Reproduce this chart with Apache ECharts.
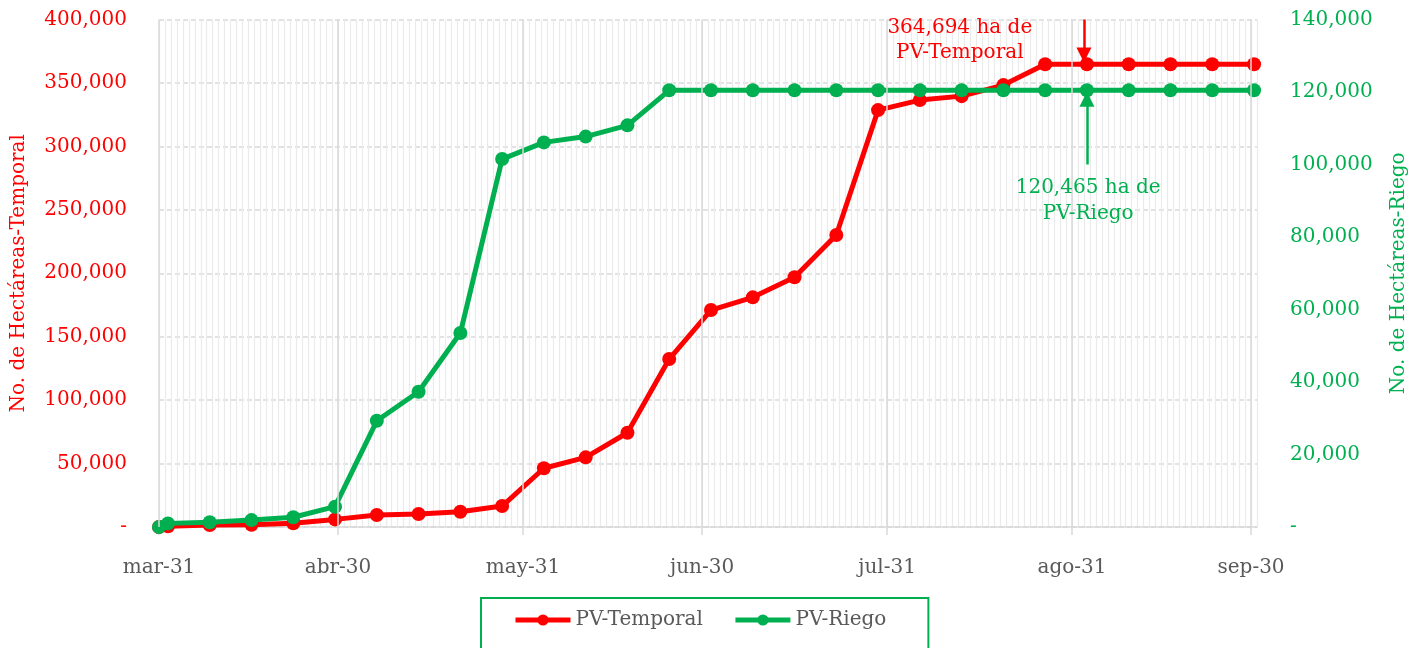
<!DOCTYPE html>
<html>
<head>
<meta charset="utf-8">
<script src="https://cdn.jsdelivr.net/npm/echarts@6/dist/echarts.min.js"></script>
<style>
  html, body { margin: 0; padding: 0; background: #fff; }
  #chart { width: 1410px; height: 648px; }
</style>
</head>
<body>
<div id="chart"></div>
<script>
// dias transcurridos desde el 31 de marzo
var dias = [0, 1.5, 8.5, 15.5, 22.5, 29.5, 36.5, 43.5, 50.5, 57.5, 64.5, 71.5, 78.5, 85.5,
  92.5, 99.5, 106.5, 113.5, 120.5, 127.5, 134.5, 141.5, 148.5, 155.5, 162.5, 169.5, 176.5, 183.5];

var pvTemporal = [0, 500, 1600, 1800, 2900, 6000, 9500, 10200, 12000, 16500, 46300, 54900, 74300, 132400,
  171000, 181000, 196800, 230100, 328600, 336500, 339600, 348300, 364694, 364694, 364694, 364694, 364694, 364694];

var pvRiego = [0, 1000, 1300, 1900, 2700, 5600, 29300, 37300, 53500, 101500, 106100, 107700, 110800, 120465,
  120465, 120465, 120465, 120465, 120465, 120465, 120465, 120465, 120465, 120465, 120465, 120465, 120465, 120465];

// fin de cada mes (dias desde mar-31) y sus etiquetas
var mesesDias = [0, 30, 61, 91, 122, 153, 183];
var mesesEtiquetas = ['mar-31', 'abr-30', 'may-31', 'jun-30', 'jul-31', 'ago-31', 'sep-30'];

var ROJO = '#FF0000';
var VERDE = '#00B050';
var GRIS = '#595959';
var FUENTE = 'DejaVu Serif';

function zip(xs, ys) {
  return xs.map(function (x, i) { return [x, ys[i]]; });
}

function fmt(v) {
  return v === 0 ? '-' : v.toLocaleString('en-US');
}

var myChart = echarts.init(document.getElementById('chart'));

var option = {
  animation: false,
  textStyle: { fontFamily: FUENTE },
  grid: { left: 159, right: 153, top: 19.5, bottom: 121, outerBoundsMode: 'none', containLabel: false },
  legend: {
    data: ['PV-Temporal', 'PV-Riego'],
    left: 481,
    top: 598,
    padding: [12, 42, 40, 32],
    borderColor: VERDE,
    borderWidth: 2,
    itemWidth: 55,
    itemHeight: 14,
    itemGap: 30,
    lineStyle: { width: 5 },
    textStyle: { color: GRIS, fontSize: 20, fontFamily: FUENTE }
  },
  xAxis: [{
    type: 'value',
    min: 0,
    max: 184,
    axisLine: { lineStyle: { color: '#d9d9d9', width: 1.5 } },
    axisTick: { show: true, customValues: mesesDias, length: 8, lineStyle: { color: '#d9d9d9', width: 1.5 } },
    axisLabel: {
      customValues: mesesDias,
      color: GRIS,
      fontSize: 20,
      fontFamily: FUENTE,
      margin: 31,
      formatter: function (v) {
        var i = mesesDias.indexOf(v);
        return i >= 0 ? mesesEtiquetas[i] : '';
      }
    },
    splitLine: { show: false }
  }, {
    // lineas menores diarias
    type: 'value',
    position: 'bottom',
    min: 0,
    max: 184,
    interval: 1,
    axisLine: { show: false },
    axisTick: { show: false },
    axisLabel: { show: false },
    splitLine: { show: true, lineStyle: { color: '#ebebeb', width: 1.2 } }
  }],
  yAxis: [{
    type: 'value',
    min: 0,
    max: 400000,
    interval: 50000,
    name: 'No. de Hectáreas-Temporal',
    nameLocation: 'middle',
    nameGap: 130,
    nameTextStyle: { color: ROJO, fontSize: 20, fontFamily: FUENTE },
    axisLine: { show: false },
    axisTick: { show: false },
    axisLabel: { color: ROJO, fontSize: 20, fontFamily: FUENTE, margin: 32, formatter: fmt },
    splitLine: { show: true, lineStyle: { color: '#d9d9d9', width: 1.5, type: [5, 3] } }
  }, {
    type: 'value',
    min: 0,
    max: 140000,
    interval: 20000,
    name: 'No. de Hectáreas-Riego',
    nameLocation: 'middle',
    nameGap: 132,
    nameTextStyle: { color: VERDE, fontSize: 20, fontFamily: FUENTE },
    axisLine: { show: false },
    axisTick: { show: false },
    axisLabel: { color: VERDE, fontSize: 20, fontFamily: FUENTE, margin: 33, formatter: fmt },
    splitLine: { show: false }
  }],
  series: [
    {
      // lineas mayores de fin de mes
      type: 'line',
      data: [],
      z: 1,
      silent: true,
      markLine: {
        silent: true,
        symbol: 'none',
        label: { show: false },
        lineStyle: { color: '#d9d9d9', width: 1.5, type: 'solid' },
        data: mesesDias.map(function (d) { return { xAxis: d }; })
      }
    },
    {
      name: 'PV-Temporal',
      type: 'line',
      data: zip(dias, pvTemporal),
      yAxisIndex: 0,
      symbol: 'circle',
      symbolSize: 14,
      lineStyle: { color: ROJO, width: 5 },
      itemStyle: { color: ROJO },
      z: 3
    },
    {
      name: 'PV-Riego',
      type: 'line',
      data: zip(dias, pvRiego),
      yAxisIndex: 1,
      symbol: 'circle',
      symbolSize: 14,
      lineStyle: { color: VERDE, width: 5 },
      itemStyle: { color: VERDE },
      z: 4
    },
    {
      // anotacion temporal
      type: 'line',
      data: [],
      yAxisIndex: 0,
      clip: false,
      z: 5,
      markLine: {
        silent: true,
        symbol: ['none', 'triangle'],
        symbolSize: 15,
        label: { show: false },
        lineStyle: { color: ROJO, width: 2.5, type: 'solid' },
        data: [[{ coord: [155, 400000] }, { coord: [155, 372000] }]]
      },
      markPoint: {
        silent: true,
        symbolSize: 0,
        label: {
          show: true,
          position: 'inside',
          color: ROJO,
          fontSize: 20,
          fontFamily: FUENTE,
          lineHeight: 25,
          align: 'center',
          formatter: '364,694 ha de\nPV-Temporal'
        },
        data: [{ coord: [134.2, 383800] }]
      }
    },
    {
      // anotacion riego
      type: 'line',
      data: [],
      yAxisIndex: 1,
      clip: false,
      z: 5,
      markLine: {
        silent: true,
        symbol: ['none', 'triangle'],
        symbolSize: 15,
        label: { show: false },
        lineStyle: { color: VERDE, width: 2.5, type: 'solid' },
        data: [[{ coord: [155.5, 100000] }, { coord: [155.5, 118000] }]]
      },
      markPoint: {
        silent: true,
        symbolSize: 0,
        label: {
          show: true,
          position: 'inside',
          color: VERDE,
          fontSize: 20,
          fontFamily: FUENTE,
          lineHeight: 26,
          align: 'center',
          formatter: '120,465 ha de\nPV-Riego'
        },
        data: [{ coord: [155.7, 89900] }]
      }
    }
  ]
};

myChart.setOption(option);
</script>
</body>
</html>
